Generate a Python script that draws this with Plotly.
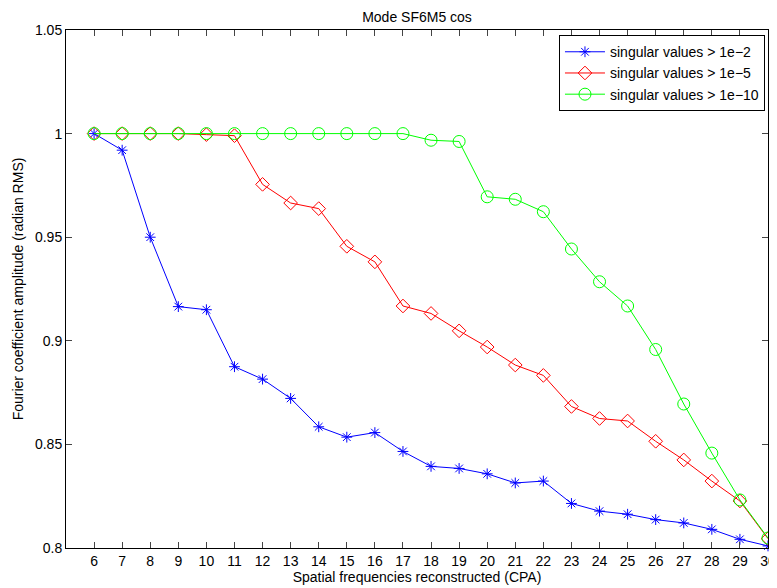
import plotly.graph_objects as go

freqs = list(range(6, 31))
sv_1e2 = [1.0, 0.992, 0.950, 0.9165, 0.915, 0.8875, 0.8815, 0.8722, 0.8585, 0.8535, 0.8557, 0.8466,
          0.8394, 0.8384, 0.8358, 0.8314, 0.8323, 0.8215, 0.8178, 0.8163, 0.8137, 0.8121, 0.8090, 0.8042, 0.8010]
sv_1e5 = [1.0, 1.0, 1.0, 1.0, 0.9995, 0.999, 0.9755, 0.9665, 0.9638, 0.9456, 0.9381, 0.9168,
          0.9132, 0.9048, 0.8970, 0.8883, 0.8833, 0.8683, 0.8625, 0.8613, 0.8515, 0.8425, 0.8323, 0.8227, 0.8045]
sv_1e10 = [1.0, 1.0, 1.0, 1.0, 1.0, 1.0, 1.0, 1.0, 1.0, 1.0, 1.0, 1.0,
           0.9968, 0.9962, 0.9695, 0.9683, 0.9623, 0.9443, 0.9285, 0.9168, 0.8958, 0.8695, 0.8458, 0.8232, 0.8048]
tick_vals_y = [0.8, 0.85, 0.9, 0.95, 1.0, 1.05]
tick_text_y = ["0.8", "0.85", "0.9", "0.95", "1", "1.05"]

fig = go.Figure()
fig.add_trace(go.Scatter(x=freqs, y=sv_1e2, mode="lines+markers", name="singular values > 1e\u22122",
                         line=dict(color="#0000ff", width=1),
                         marker=dict(symbol="asterisk-open", size=9, color="#0000ff",
                                     line=dict(color="#0000ff", width=1)),
                         cliponaxis=False))
fig.add_trace(go.Scatter(x=freqs, y=sv_1e5, mode="lines+markers", name="singular values > 1e\u22125",
                         line=dict(color="#ff0000", width=1),
                         marker=dict(symbol="diamond-open", size=10.5, color="#ff0000",
                                     line=dict(color="#ff0000", width=1)),
                         cliponaxis=False))
fig.add_trace(go.Scatter(x=freqs, y=sv_1e10, mode="lines+markers", name="singular values > 1e\u221210",
                         line=dict(color="#00ff00", width=1),
                         marker=dict(symbol="circle-open", size=12, color="#00ff00",
                                     line=dict(color="#00ff00", width=1)),
                         cliponaxis=False))

FONT = "Liberation Sans, Arial, sans-serif"
axis_font = dict(family=FONT, size=14, color="black")
fig.update_layout(
    width=769, height=580,
    margin=dict(l=58, r=9, t=22, b=40, autoexpand=False),
    paper_bgcolor="white", plot_bgcolor="white",
    font=axis_font,
    title=dict(text="Mode SF6M5 cos", x=0.5, xref="paper", xanchor="center", y=0.985, yanchor="middle",
               font=dict(family=FONT, size=14, color="black")),
    xaxis=dict(range=[5, 30], tickmode="array", tickvals=freqs, ticks="inside", ticklen=6,
               showline=True, linecolor="black", linewidth=1, mirror="ticks", showgrid=False,
               zeroline=False, tickfont=axis_font, automargin=False,
               title=dict(text="Spatial frequencies reconstructed (CPA)", standoff=0, font=axis_font)),
    yaxis=dict(range=[0.8, 1.05], tickmode="array", tickvals=tick_vals_y, ticktext=tick_text_y,
               ticks="inside", ticklen=6, showline=True, linecolor="black", linewidth=1,
               mirror="ticks", showgrid=False, zeroline=False, tickfont=axis_font, automargin=False,
               title=dict(text="Fourier coefficient amplitude (radian RMS)", standoff=8, font=axis_font)),
    legend=dict(x=0.9957, y=0.99, xanchor="right", yanchor="top", bgcolor="white",
                bordercolor="black", borderwidth=1, font=dict(family=FONT, size=14, color="black"),
                tracegroupgap=0, itemwidth=40),
    showlegend=True,
)

fig.write_html("out.html")
